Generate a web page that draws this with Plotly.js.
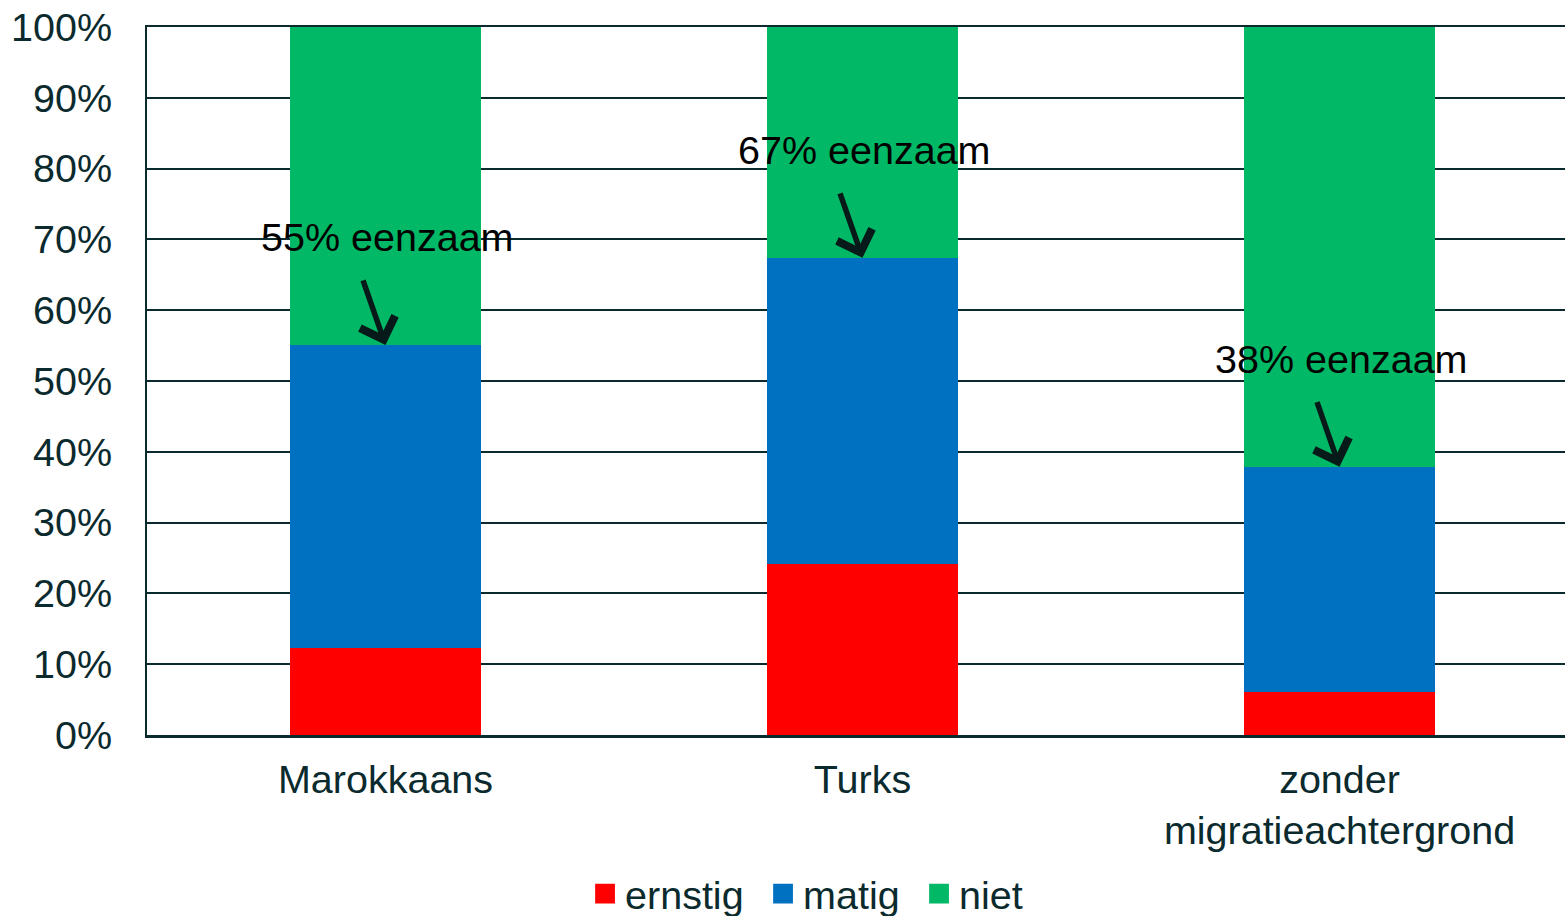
<!DOCTYPE html>
<html>
<head>
<meta charset="utf-8">
<script src="https://cdn.plot.ly/plotly-3.0.1.min.js"></script>
<style>
html,body{margin:0;padding:0;background:#fff;}
#chart{width:1565px;height:916px;}
</style>
</head>
<body>
<div id="chart"></div>
<script>
const categories = ["Marokkaans", "Turks", "zonder<br>migratieachtergrond"];
const ernstig = [12.3, 24.2, 6.1];
const matig = [42.8, 43.2, 31.8];
const niet = [44.9, 32.6, 62.1];
const eenzaamLabels = ["55% eenzaam", "67% eenzaam", "38% eenzaam"];
const seriesNames = ["ernstig", "matig", "niet"];
const seriesColors = ["#FF0000", "#0070C0", "#00B865"];
const legendWidths = [133, 111, 66];

const textColor = "#0b2a2e";
const fontFamily = "Liberation Sans, Arial, sans-serif";

const seriesValues = [ernstig, matig, niet];
const traces = seriesValues.map((vals, i) => ({
  type: "bar",
  name: seriesNames[i],
  x: categories,
  y: vals,
  legendwidth: legendWidths[i],
  marker: {color: seriesColors[i], line: {width: 0}},
  hoverinfo: "skip"
}));

const annotations = [];
categories.forEach((c, i) => {
  const top = ernstig[i] + matig[i];
  annotations.push({
    x: c, y: top, xref: "x", yref: "y",
    text: "", showarrow: true,
    arrowhead: 4, arrowsize: 1.3, arrowwidth: 5.5, arrowcolor: "#061a1a",
    ax: -23, ay: -66
  });
  annotations.push({
    x: c, y: top, xref: "x", yref: "y",
    text: eenzaamLabels[i], showarrow: false,
    xanchor: "center", yanchor: "middle",
    xshift: 2, yshift: 108,
    font: {family: fontFamily, size: 39.5, color: "#000"}
  });
});

const layout = {
  width: 1565, height: 916,
  margin: {l: 147, r: 0, t: 27, b: 181},
  paper_bgcolor: "#fff", plot_bgcolor: "#fff",
  barmode: "stack",
  bargap: 0.6,
  font: {family: fontFamily, size: 39.5, color: textColor},
  xaxis: {
    type: "category",
    range: [-0.5, 2.4727],
    showgrid: false,
    showline: true, linecolor: textColor, linewidth: 2.5, mirror: true,
    ticks: "", ticklabelstandoff: 8,
    tickfont: {family: fontFamily, size: 39.5, color: textColor},
    fixedrange: true
  },
  yaxis: {
    range: [0, 100],
    tickvals: [0,10,20,30,40,50,60,70,80,90,100],
    ticktext: ["0%","10%","20%","30%","40%","50%","60%","70%","80%","90%","100%"],
    showgrid: true, gridcolor: textColor, gridwidth: 2,
    zeroline: false,
    showline: true, linecolor: textColor, linewidth: 2,
    ticks: "", ticklabelstandoff: 25,
    tickfont: {family: fontFamily, size: 39.5, color: textColor},
    fixedrange: true
  },
  showlegend: true,
  legend: {
    orientation: "h",
    xref: "container", yref: "container",
    x: 0.516, xanchor: "center",
    y: 0.024, yanchor: "middle",
    font: {family: fontFamily, size: 39.5, color: textColor},
    itemclick: false, itemdoubleclick: false,
    traceorder: "normal"
  },
  annotations: annotations
};

Plotly.newPlot("chart", traces, layout, {displayModeBar: false, staticPlot: true}).then(gd => {
  gd.querySelectorAll(".legend .legendpoints path").forEach(p => {
    const t = p.getAttribute("transform") || "";
    p.setAttribute("transform", t + " scale(1.65)");
  });
});
</script>
</body>
</html>
